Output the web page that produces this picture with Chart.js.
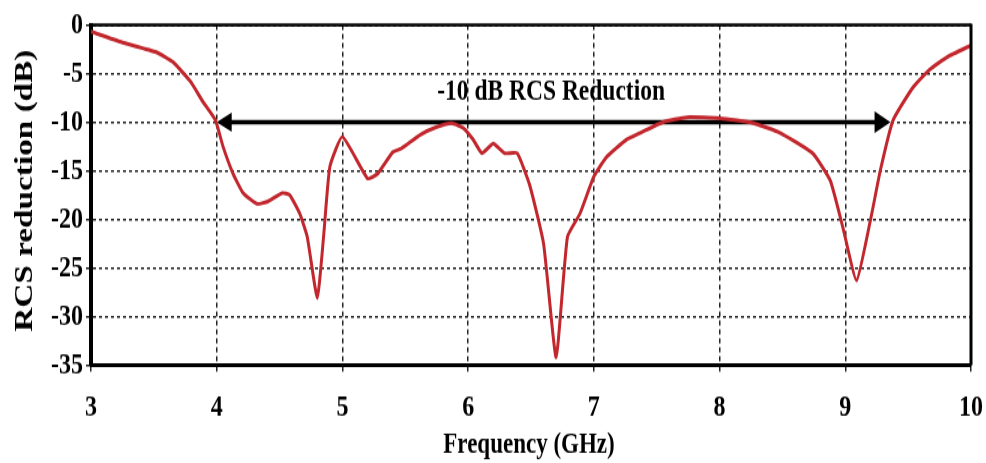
<!DOCTYPE html>
<html>
<head>
<meta charset="utf-8">
<script src="https://cdn.jsdelivr.net/npm/chart.js@4.4.0/dist/chart.umd.min.js"></script>
<style>
  html, body { margin: 0; padding: 0; background: #fff; overflow: hidden; }
  #wrap { width: 986px; height: 463px; overflow: hidden; }
  /* drawn a bit short, then stretched tall like the published figure */
  #rcs { display: block; width: 986px; height: 362px; transform: scaleY(1.279); transform-origin: 0 0; }
</style>
</head>
<body>
<div id="wrap"><canvas id="rcs" width="986" height="362"></canvas></div>
<script>
// monostatic RCS reduction vs frequency
const freqGHz = [3.0, 3.25, 3.52, 3.65, 3.79, 3.89, 3.99, 4.05, 4.13, 4.21, 4.32, 4.40,
  4.52, 4.58, 4.66, 4.72, 4.80, 4.85, 4.90, 5.0, 5.20, 5.28, 5.40, 5.47, 5.62, 5.75, 5.87, 5.96,
  6.04, 6.11, 6.20, 6.29, 6.39, 6.49, 6.60, 6.70, 6.79, 6.89, 7.0, 7.10, 7.26, 7.37, 7.55, 7.74,
  8.0, 8.27, 8.48, 8.74, 8.88, 8.98, 9.09, 9.20, 9.28, 9.38, 9.54, 9.67, 9.81, 10.0];
const rcsDb = [-0.7, -1.8, -2.8, -3.8, -5.8, -7.9, -9.8, -12.5, -15.3, -17.3, -18.4, -18.2,
  -17.3, -17.5, -19.4, -21.8, -28.1, -21.8, -14.6, -11.5, -15.8, -15.3, -13.1, -12.7, -11.3, -10.5, -10.1, -10.6,
  -11.8, -13.2, -12.2, -13.2, -13.2, -16.5, -22.5, -34.2, -21.8, -19.4, -15.6, -13.6, -11.8, -11.1, -10.0, -9.5,
  -9.6, -10.1, -11.1, -13.2, -16.0, -20.8, -26.3, -20.1, -14.9, -9.8, -6.4, -4.6, -3.3, -2.1];

const xTicks = [3, 4, 5, 6, 7, 8, 9, 10];
const yTicks = [0, -5, -10, -15, -20, -25, -30, -35];

// bandwidth annotation
const bandFrom = 4;
const bandTo = 9.36;
const bandLevel = -10;
const bandLabel = '-10 dB RCS Reduction';
const bandLabelX = 6.66;
const bandLabelY = -7.7;

const serif = '"Liberation Serif", "Times New Roman", serif';

const decor = {
  id: 'decor',
  beforeDatasetsDraw(chart) {
    const { ctx } = chart;
    const x = chart.scales.x, y = chart.scales.y;
    const yp = y.getPixelForValue(bandLevel);
    const x0 = x.getPixelForValue(bandFrom);
    const x1 = x.getPixelForValue(bandTo);
    ctx.save();
    ctx.strokeStyle = '#000';
    ctx.fillStyle = '#000';
    ctx.lineWidth = 3.5;
    ctx.beginPath();
    ctx.moveTo(x0 + 10, yp);
    ctx.lineTo(x1 - 10, yp);
    ctx.stroke();
    // arrow heads
    ctx.beginPath();
    ctx.moveTo(x0, yp);
    ctx.lineTo(x0 + 15, yp - 7.5);
    ctx.lineTo(x0 + 15, yp + 7.5);
    ctx.closePath();
    ctx.fill();
    ctx.beginPath();
    ctx.moveTo(x1, yp);
    ctx.lineTo(x1 - 16, yp - 8.5);
    ctx.lineTo(x1 - 16, yp + 8.5);
    ctx.closePath();
    ctx.fill();

    ctx.font = 'bold 23.5px ' + serif;
    ctx.textAlign = 'center';
    ctx.textBaseline = 'alphabetic';
    ctx.fillText(bandLabel, x.getPixelForValue(bandLabelX), y.getPixelForValue(bandLabelY));
    ctx.restore();
  },
  afterDraw(chart) {
    const { ctx, chartArea: a } = chart;
    ctx.save();
    // top and right frame
    ctx.strokeStyle = '#000';
    ctx.lineWidth = 2.4;
    ctx.beginPath();
    ctx.moveTo(a.left, a.top);
    ctx.lineTo(a.right, a.top);
    ctx.stroke();
    ctx.lineWidth = 3;
    ctx.beginPath();
    ctx.moveTo(a.right, a.top - 1);
    ctx.lineTo(a.right, a.bottom);
    ctx.stroke();

    // axis titles
    ctx.fillStyle = '#000';
    ctx.textAlign = 'center';
    ctx.font = 'bold 23px ' + serif;
    ctx.textBaseline = 'alphabetic';
    ctx.fillText('Frequency (GHz)', (a.left + a.right) / 2 - 2, 354);
    ctx.translate(25, 149);
    ctx.rotate(-Math.PI / 2);
    ctx.font = 'bold 26px ' + serif;
    ctx.textBaseline = 'middle';
    ctx.fillText('RCS reduction (dB)', 0, 0);
    ctx.restore();
  }
};

new Chart(document.getElementById('rcs'), {
  type: 'line',
  data: {
    datasets: [{
      label: 'RCS reduction',
      data: freqGHz.map((f, i) => ({ x: f, y: rcsDb[i] })),
      borderColor: '#c1272d',
      borderWidth: 3,
      pointRadius: 0,
      tension: 0.15,
      fill: false
    }]
  },
  options: {
    responsive: false,
    animation: false,
    devicePixelRatio: 1,
    layout: { padding: { top: 19.5, right: 15, left: 0, bottom: 0 } },
    plugins: { legend: { display: false }, tooltip: { enabled: false } },
    scales: {
      x: {
        type: 'linear',
        min: 3,
        max: 10,
        afterFit: s => { s.height = 76.6; s.paddingLeft = 0; s.paddingRight = 0; },
        afterBuildTicks: s => { s.ticks = xTicks.map(v => ({ value: v })); },
        ticks: {
          padding: 14,
          color: '#000',
          font: { family: serif, size: 24, weight: 'bold' },
          callback: v => String(v)
        },
        grid: { color: '#222', lineWidth: 1.5, tickLength: 5, drawTicks: true },
        border: { display: true, color: '#000', width: 3, dash: [4, 3] }
      },
      y: {
        min: -35,
        max: 0,
        afterFit: s => { s.width = 91; s.paddingTop = 0; s.paddingBottom = 0; },
        afterBuildTicks: s => { s.ticks = yTicks.map(v => ({ value: v })); },
        ticks: {
          padding: 3,
          color: '#000',
          font: { family: serif, size: 24, weight: 'bold' },
          callback: v => String(v)
        },
        grid: { color: '#222', lineWidth: 1.5, tickLength: 5, drawTicks: true },
        border: { display: true, color: '#000', width: 4, dash: [3, 3] }
      }
    }
  },
  plugins: [decor]
});
</script>
</body>
</html>
